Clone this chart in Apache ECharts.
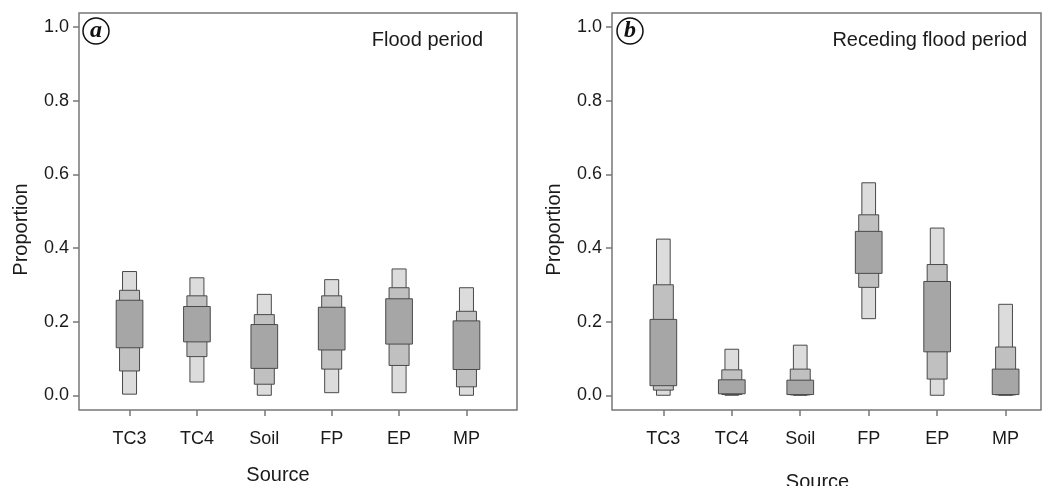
<!DOCTYPE html>
<html>
<head>
<meta charset="utf-8">
<script src="https://cdn.jsdelivr.net/npm/echarts@6/dist/echarts.min.js"></script>
<style>
  html, body { margin: 0; padding: 0; background: #fff; overflow: hidden; }
  #main { width: 1043px; height: 486px; }
</style>
</head>
<body>
<div id="main"></div>
<script>
var sources = ['TC3', 'TC4', 'Soil', 'FP', 'EP', 'MP'];
var yTicks = [0, 0.2, 0.4, 0.6, 0.8, 1.0];

// credible intervals [low, high], one per source
var flood95 = [[0.003, 0.336], [0.036, 0.319], [0.000, 0.274], [0.007, 0.314], [0.007, 0.343], [0.000, 0.292]];
var flood75 = [[0.066, 0.285], [0.105, 0.270], [0.030, 0.219], [0.071, 0.270], [0.081, 0.292], [0.023, 0.228]];
var flood50 = [[0.129, 0.258], [0.145, 0.241], [0.073, 0.192], [0.123, 0.239], [0.139, 0.262], [0.070, 0.202]];

var receding95 = [[0.000, 0.424], [0.000, 0.125], [0.000, 0.136], [0.208, 0.577], [0.000, 0.454], [0.000, 0.247]];
var receding75 = [[0.014, 0.300], [0.002, 0.069], [0.001, 0.071], [0.293, 0.490], [0.044, 0.355], [0.001, 0.131]];
var receding50 = [[0.026, 0.206], [0.004, 0.042], [0.002, 0.041], [0.331, 0.445], [0.118, 0.309], [0.002, 0.071]];

var chart = echarts.init(document.getElementById('main'), null, { width: 1043, height: 486 });
var textColor = '#1a1a1a';
var frameColor = '#777';

function toRows(list) {
    return list.map(function (d, i) { return [i + 1, d[0], d[1]]; });
}

function boxSeries(list, idx, frac, fill) {
    return {
        type: 'custom',
        xAxisIndex: idx,
        yAxisIndex: idx,
        encode: { x: 0, y: [1, 2] },
        data: toRows(list),
        renderItem: function (params, api) {
            var x = api.value(0);
            var top = api.coord([x, api.value(2)]);
            var bot = api.coord([x, api.value(1)]);
            var w = api.size([1, 0])[0] * frac;
            return {
                type: 'rect',
                shape: { x: top[0] - w / 2, y: top[1], width: w, height: Math.max(bot[1] - top[1], 1) },
                style: { fill: fill, stroke: '#4a4a4a', lineWidth: 1 }
            };
        }
    };
}

function xAxisFor(idx, max, gap, shift) {
    return {
        type: 'value',
        gridIndex: idx,
        min: 0.25,
        max: max,
        name: 'Source',
        nameLocation: 'middle',
        nameGap: gap,
        nameTextStyle: { fontSize: 20, color: textColor, fontFamily: 'Liberation Sans', padding: [0, shift, 0, 0] },
        axisLine: { show: false, onZero: false },
        axisTick: { show: true, length: 6, customValues: [1, 2, 3, 4, 5, 6], lineStyle: { color: frameColor, width: 1.5 } },
        axisLabel: {
            customValues: [1, 2, 3, 4, 5, 6],
            margin: 20,
            fontSize: 18,
            color: textColor,
            fontFamily: 'Liberation Sans',
            formatter: function (v) { return sources[Math.round(v) - 1]; }
        },
        splitLine: { show: false }
    };
}

function yAxisFor(idx) {
    return {
        type: 'value',
        gridIndex: idx,
        min: -0.04,
        max: 1.038,
        name: 'Proportion',
        nameLocation: 'middle',
        nameGap: 48,
        nameTextStyle: { fontSize: 20, color: textColor, fontFamily: 'Liberation Sans', padding: [0, 36, 0, 0] },
        axisLine: { show: false },
        axisTick: { show: true, length: 6, customValues: yTicks, lineStyle: { color: frameColor, width: 1.5 } },
        axisLabel: {
            customValues: yTicks,
            margin: 10,
            fontSize: 18,
            color: textColor,
            fontFamily: 'Liberation Sans',
            formatter: function (v) { return v.toFixed(1); }
        },
        splitLine: { show: false }
    };
}

function panelLabel(cx, letter) {
    return [{
        type: 'circle',
        shape: { cx: cx, cy: 31, r: 13 },
        style: { fill: '#fff', stroke: '#111', lineWidth: 1.5 },
        z: 10
    }, {
        type: 'text',
        x: cx,
        y: 31,
        style: {
            text: letter,
            font: 'italic bold 24px "Liberation Serif"',
            fill: '#111',
            align: 'center',
            verticalAlign: 'middle'
        },
        z: 11
    }];
}

var option = {
    animation: false,
    backgroundColor: '#fff',
    grid: [
        { left: 79, top: 13, width: 438, bottom: 76, outerBoundsMode: 'none', show: true, borderColor: frameColor, borderWidth: 1.5, backgroundColor: '#fff' },
        { left: 612, top: 13, right: 2, bottom: 76, outerBoundsMode: 'none', show: true, borderColor: frameColor, borderWidth: 1.5, backgroundColor: '#fff' }
    ],
    xAxis: [xAxisFor(0, 6.75, 55, 40), xAxisFor(1, 6.517, 62, 18)],
    yAxis: [yAxisFor(0), yAxisFor(1)],
    graphic: panelLabel(96, 'a').concat(panelLabel(630, 'b')).concat([
        { type: 'text', x: 483, y: 40, style: { text: 'Flood period', font: '20px "Liberation Sans"', fill: textColor, align: 'right', verticalAlign: 'middle' } },
        { type: 'text', x: 1027, y: 40, style: { text: 'Receding flood period', font: '20px "Liberation Sans"', fill: textColor, align: 'right', verticalAlign: 'middle' } }
    ]),
    series: [
        boxSeries(flood95, 0, 0.208, '#dcdcdc'),
        boxSeries(flood75, 0, 0.297, '#c0c0c0'),
        boxSeries(flood50, 0, 0.396, '#a6a6a6'),
        boxSeries(receding95, 1, 0.2, '#dcdcdc'),
        boxSeries(receding75, 1, 0.292, '#c0c0c0'),
        boxSeries(receding50, 1, 0.39, '#a6a6a6')
    ]
};

chart.setOption(option);
</script>
</body>
</html>
